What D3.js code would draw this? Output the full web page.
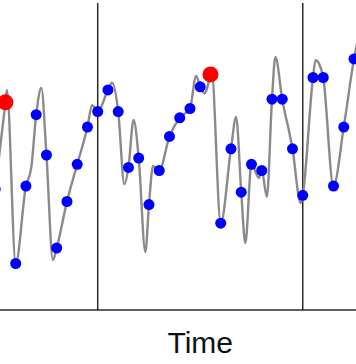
<!DOCTYPE html>
<html>
<head>
<meta charset="utf-8">
<script src="https://cdn.jsdelivr.net/npm/d3@7"></script>
<style>
  html, body { margin: 0; padding: 0; background: #fff; }
  svg { display: block; }
</style>
</head>
<body>
<script>
// Sample index (time step) and sampled values
const sampleT = d3.range(0, 36);
const sampleV = [3.9, 6.7, 1.5, 4.0, 6.3, 5.0, 2.0, 3.5, 4.7, 5.9,
                 6.4, 7.1, 6.4, 4.6, 4.9, 3.4, 4.5, 5.6, 6.2, 6.5,
                 7.2, 7.6, 2.8, 5.2, 3.8, 4.7, 4.5, 6.8, 6.8, 5.2,
                 3.7, 7.5, 7.5, 4.0, 5.9, 8.1];
// Highlighted samples (red)
const highlightT = [1, 21];
// Segment boundaries (vertical lines)
const boundaryT = [10, 30];
// Continuous signal: extra points between samples (t, value)
const extraT = [1.14, 3.52, 4.50, 5.63, 9.45, 11.4, 12.6, 13.5, 14.65, 15.4,
                19.6, 20.4, 21.1, 23.5, 24.4, 25.73, 26.5, 27.33, 29.8, 31.25, 31.6, 35.4];
const extraV = [7.1, 4.6, 7.16, 1.61, 6.61, 7.33, 4.06, 6.13, 1.87, 4.65,
                7.55, 6.99, 7.74, 6.23, 2.16, 4.26, 3.65, 8.16, 3.45, 8.06, 7.94, 8.77];
const xLabel = "Time";

const W = 356, H = 364;
const svg = d3.select("body").append("svg").attr("width", W).attr("height", H);

const x = d3.scaleLinear().domain([0, 35]).range([-4.8, 354]);
const y = d3.scaleLinear().domain([0, 10]).range([310, 0]);

// vertical boundary lines
svg.selectAll("line.bound").data(boundaryT).enter().append("line")
  .attr("class", "bound")
  .attr("x1", d => x(d)).attr("x2", d => x(d))
  .attr("y1", 3).attr("y2", 310)
  .attr("stroke", "#2b2b2b").attr("stroke-width", 1.5);

// bottom axis line
svg.append("line")
  .attr("x1", 0).attr("x2", W).attr("y1", 310).attr("y2", 310)
  .attr("stroke", "#2b2b2b").attr("stroke-width", 1.5);

// continuous curve
const curvePts = sampleT.map((t, i) => [t, sampleV[i]])
  .concat(extraT.map((t, i) => [t, extraV[i]]))
  .sort((a, b) => a[0] - b[0]);

const line = d3.line()
  .x(d => x(d[0])).y(d => y(d[1]))
  .curve(d3.curveMonotoneX);

svg.append("path").datum(curvePts)
  .attr("d", line)
  .attr("fill", "none")
  .attr("stroke", "#8a8a8a")
  .attr("stroke-width", 2.4);

// samples
const samples = sampleT.map((t, i) => ({t, v: sampleV[i], hi: highlightT.includes(t)}));
svg.selectAll("circle.s").data(samples.filter(d => !d.hi)).enter().append("circle")
  .attr("class", "s")
  .attr("cx", d => x(d.t)).attr("cy", d => y(d.v))
  .attr("r", 5.5).attr("fill", "#0000ff");
svg.selectAll("circle.h").data(samples.filter(d => d.hi)).enter().append("circle")
  .attr("class", "h")
  .attr("cx", d => x(d.t)).attr("cy", d => y(d.v))
  .attr("r", 8).attr("fill", "#ff0000");

// x label
svg.append("text")
  .attr("x", (x(boundaryT[0]) + x(boundaryT[1])) / 2)
  .attr("y", 353)
  .attr("text-anchor", "middle")
  .attr("font-family", "Liberation Sans, Arial, sans-serif")
  .attr("font-size", 30)
  .attr("fill", "#111")
  .text(xLabel);
</script>
</body>
</html>
